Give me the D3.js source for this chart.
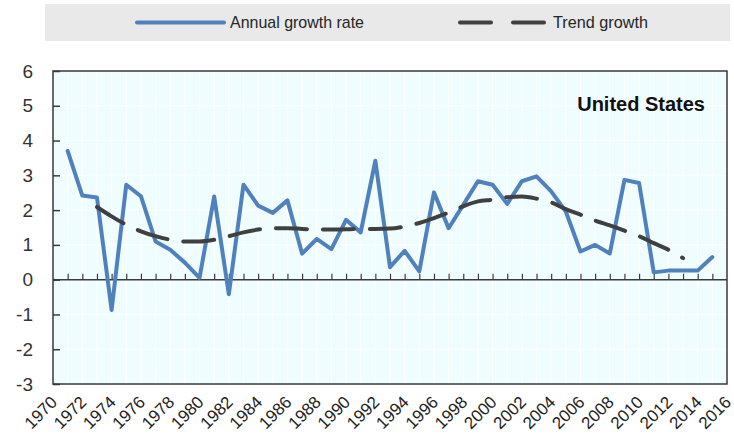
<!DOCTYPE html>
<html>
<head>
<meta charset="utf-8">
<script src="https://cdn.jsdelivr.net/npm/d3@7"></script>
<style>
  html, body { margin: 0; padding: 0; background: #fff; }
  svg { display: block; }
</style>
</head>
<body>
<svg id="chart" width="734" height="441"></svg>
<script>
// ---- Data ----
const years = d3.range(1971, 2016);
const annualGrowth = [
  3.70, 2.42, 2.36, -0.87, 2.73, 2.40, 1.10, 0.86, 0.49, 0.05,
  2.39, -0.42, 2.73, 2.13, 1.92, 2.28, 0.75, 1.17, 0.88, 1.72,
  1.36, 3.42, 0.36, 0.83, 0.24, 2.51, 1.48, 2.15, 2.83, 2.73,
  2.18, 2.83, 2.97, 2.54, 1.96, 0.81, 1.00, 0.75, 2.87, 2.78,
  0.21, 0.26, 0.26, 0.26, 0.65
];
const trendYears = d3.range(1973, 2014);
const trendGrowth = [
  2.09, 1.82, 1.58, 1.39, 1.25, 1.15, 1.10, 1.10, 1.15, 1.25,
  1.36, 1.44, 1.48, 1.48, 1.46, 1.44, 1.44, 1.45, 1.46, 1.46,
  1.47, 1.53, 1.63, 1.77, 1.93, 2.11, 2.25, 2.30, 2.37, 2.39,
  2.33, 2.22, 2.03, 1.87, 1.70, 1.56, 1.41, 1.25, 1.05, 0.86,
  0.62
];
const seriesNames = ["Annual growth rate", "Trend growth"];
const yTicks = [-3, -2, -1, 0, 1, 2, 3, 4, 5, 6];
const xLabelYears = d3.range(1970, 2017, 2);
const countryLabel = "United States";

// ---- Layout ----
const svg = d3.select("#chart");
const L = 53, R = 727, T = 71, B = 384;
const x = d3.scaleLinear().domain([1970, 2016]).range([L, R]);
const y = d3.scaleLinear().domain([-3, 6]).range([B, T]);
const blue = "#4f81bd";
const dark = "#404040";

// Legend
svg.append("rect").attr("x", 45).attr("y", 4).attr("width", 685).attr("height", 37)
  .attr("fill", "#e9e9e9");
svg.append("line").attr("x1", 137).attr("x2", 224).attr("y1", 22.5).attr("y2", 22.5)
  .attr("stroke", blue).attr("stroke-width", 4).attr("stroke-linecap", "round");
svg.append("text").attr("x", 230).attr("y", 28)
  .attr("font-family", "'Liberation Sans Narrow', 'Arial Narrow', 'Liberation Sans', sans-serif")
  .attr("font-size", 17).attr("fill", "#262626")
  .attr("textLength", 134).attr("lengthAdjust", "spacingAndGlyphs").text(seriesNames[0]);
svg.append("line").attr("x1", 460).attr("x2", 547).attr("y1", 22.5).attr("y2", 22.5)
  .attr("stroke", dark).attr("stroke-width", 4).attr("stroke-linecap", "round")
  .attr("stroke-dasharray", "31,22");
svg.append("text").attr("x", 553).attr("y", 28)
  .attr("font-family", "'Liberation Sans Narrow', 'Arial Narrow', 'Liberation Sans', sans-serif")
  .attr("font-size", 17).attr("fill", "#262626")
  .attr("textLength", 95).attr("lengthAdjust", "spacingAndGlyphs").text(seriesNames[1]);

// Plot background
svg.append("rect").attr("x", L).attr("y", T).attr("width", R - L).attr("height", B - T)
  .attr("fill", "#f0fdff");

// Grid
const grid = svg.append("g").attr("stroke", "#ffffff").attr("stroke-width", 1);
grid.selectAll("line.v").data(d3.range(1971, 2016)).join("line").attr("class", "v")
  .attr("x1", d => x(d)).attr("x2", d => x(d)).attr("y1", T).attr("y2", B);
grid.selectAll("line.h").data(yTicks.filter(d => d !== 0 && d !== -3 && d !== 6)).join("line").attr("class", "h")
  .attr("x1", L).attr("x2", R).attr("y1", d => y(d)).attr("y2", d => y(d));

// Frame
svg.append("rect").attr("x", L).attr("y", T).attr("width", R - L).attr("height", B - T)
  .attr("fill", "none").attr("stroke", "#3a3a3a").attr("stroke-width", 1.5);

// Y axis (inward ticks)
const yAxis = d3.axisLeft(y).tickValues(yTicks).tickSize(-7).tickPadding(20)
  .tickFormat(d => String(d));
const gy = svg.append("g").attr("transform", `translate(${L},0)`).call(yAxis);
gy.select(".domain").remove();
gy.selectAll(".tick line").attr("stroke", "#3a3a3a").attr("stroke-width", 1.5);
gy.selectAll(".tick text").attr("font-family", "'Liberation Sans', Arial, sans-serif")
  .attr("font-size", 19).attr("fill", "#333");

// Zero axis with upward ticks
const xAxis = d3.axisTop(x).tickValues(years).tickSize(6).tickFormat("");
const gx = svg.append("g").attr("transform", `translate(0,${y(0)})`).call(xAxis);
gx.select(".domain").attr("stroke", "#3a3a3a").attr("stroke-width", 1.5)
  .attr("d", `M${L},0H${R}`);
gx.selectAll(".tick line").attr("stroke", "#3a3a3a").attr("stroke-width", 1.2);

// X labels (rotated)
svg.append("g").selectAll("text").data(xLabelYears).join("text")
  .attr("transform", d => `translate(${x(d) + 1},399) rotate(-45)`)
  .attr("text-anchor", "end").attr("dy", "0.35em")
  .attr("font-family", "'Liberation Sans', Arial, sans-serif")
  .attr("font-size", 17).attr("fill", "#222").text(d => d);

// Lines
const lineA = d3.line().x((d, i) => x(years[i])).y(d => y(d));
svg.append("path").datum(annualGrowth).attr("d", lineA)
  .attr("fill", "none").attr("stroke", blue).attr("stroke-width", 4)
  .attr("stroke-linejoin", "round").attr("stroke-linecap", "round");
const lineT = d3.line().curve(d3.curveMonotoneX).x((d, i) => x(trendYears[i])).y(d => y(d));
svg.append("path").datum(trendGrowth).attr("d", lineT)
  .attr("fill", "none").attr("stroke", dark).attr("stroke-width", 4)
  .attr("stroke-dasharray", "31,16").attr("stroke-linecap", "round");

// Country label
svg.append("text").attr("x", 705).attr("y", 111).attr("text-anchor", "end")
  .attr("font-family", "'Liberation Sans', Arial, sans-serif").attr("font-weight", "bold")
  .attr("font-size", 20).attr("fill", "#111").text(countryLabel);
</script>
</body>
</html>
